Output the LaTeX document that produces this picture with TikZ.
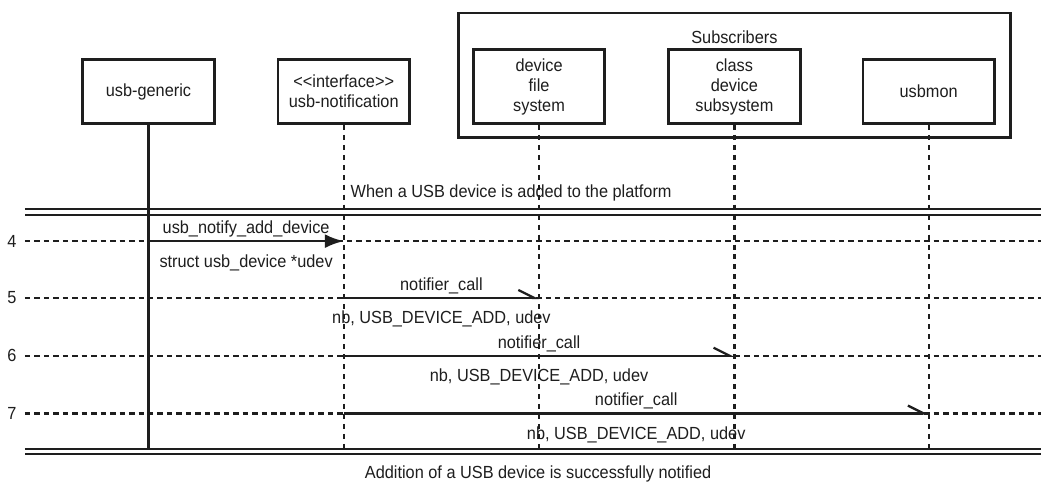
\documentclass[tikz,border=0pt]{standalone}
\usepackage{fontspec}
\newfontfamily\seqfont{Liberation Sans}[FakeStretch=0.93]
\usetikzlibrary{arrows.meta}
\definecolor{seqInk}{HTML}{1E1E1E}

\begin{document}
\begin{tikzpicture}[x=1pt,y=-1pt,line join=miter,font=\seqfont\fontsize{17.6}{20}\selectfont,text=seqInk]
\path[fill=white] (0,0) rectangle (1045,487);
\tikzset{actor/.style={draw=seqInk,line width=2.8pt,fill=white,minimum width=132pt,minimum height=64pt,align=center,inner sep=2pt},subbox/.style={actor,minimum height=74pt},life/.style={draw=seqInk,line width=2.3pt,dash pattern=on 5pt off 5pt},rowline/.style={draw=seqInk,line width=2.3pt,dash pattern=on 5.5pt off 4pt},sep/.style={draw=seqInk,double,double distance=3.3pt,line width=2.1pt},call/.style={draw=seqInk,line width=2.5pt,-{Latex[length=19pt,width=14pt]}},notify/.style={draw=seqInk,line width=2.3pt,-{Straight Barb[left,length=16pt,width=16pt]}},upper/.style={midway,above=3pt,inner sep=0pt},lower/.style={midway,below=12pt,inner sep=0pt}}
\node[draw=seqInk,line width=2.8pt,minimum width=554pt,minimum height=125pt] (subs) at (737,75.5) {};
\node (subslbl) at (737,37) {Subscribers};
\node[actor] (gen) at (149,92) {usb-generic};
\node[actor] (notif) at (345,92) {<<interface>>\\usb-notification};
\node[subbox] (dfs) at (541,87) {device\\file\\system};
\node[subbox] (cds) at (737,87) {class\\device\\subsystem};
\node[actor] (mon) at (932,92) {usbmon};
\node (addtxt) at (513,194) {When a USB device is added to the platform};
\node (donetxt) at (540,476) {Addition of a USB device is successfully notified};
\coordinate (sepA) at (25,212.75); \coordinate (sepB) at (25,453); \coordinate (lifeend) at (25,450);
\draw[sep] (sepA) -- (sepA -| 1045,0); \draw[sep] (sepB) -- (sepB -| 1045,0);
\foreach \n/\y in {4/242,5/299,6/357,7/415}{
  \node[inner sep=0pt] (row\n) at (12,\y) {\n};
  \draw[rowline] (25,\y) -- (1045,\y);
}
\draw[draw=seqInk,line width=2.3pt] (gen.south) -- (gen.south |- lifeend);
\foreach \a in {notif,dfs,cds,mon} \draw[life] (\a.south) -- (\a.south |- lifeend);
\draw[call] (gen.south |- row4) -- (notif.south |- row4) node[upper] {usb\_notify\_add\_device} node[lower] {struct usb\_device *udev};
\draw[notify] (notif.south |- row5) -- (dfs.south |- row5) node[upper] {notifier\_call} node[lower] {nb, USB\_DEVICE\_ADD, udev};
\draw[notify] (notif.south |- row6) -- (cds.south |- row6) node[upper] {notifier\_call} node[lower] {nb, USB\_DEVICE\_ADD, udev};
\draw[notify] (notif.south |- row7) -- (mon.south |- row7) node[upper] {notifier\_call} node[lower] {nb, USB\_DEVICE\_ADD, udev};
\end{tikzpicture}
\end{document}
